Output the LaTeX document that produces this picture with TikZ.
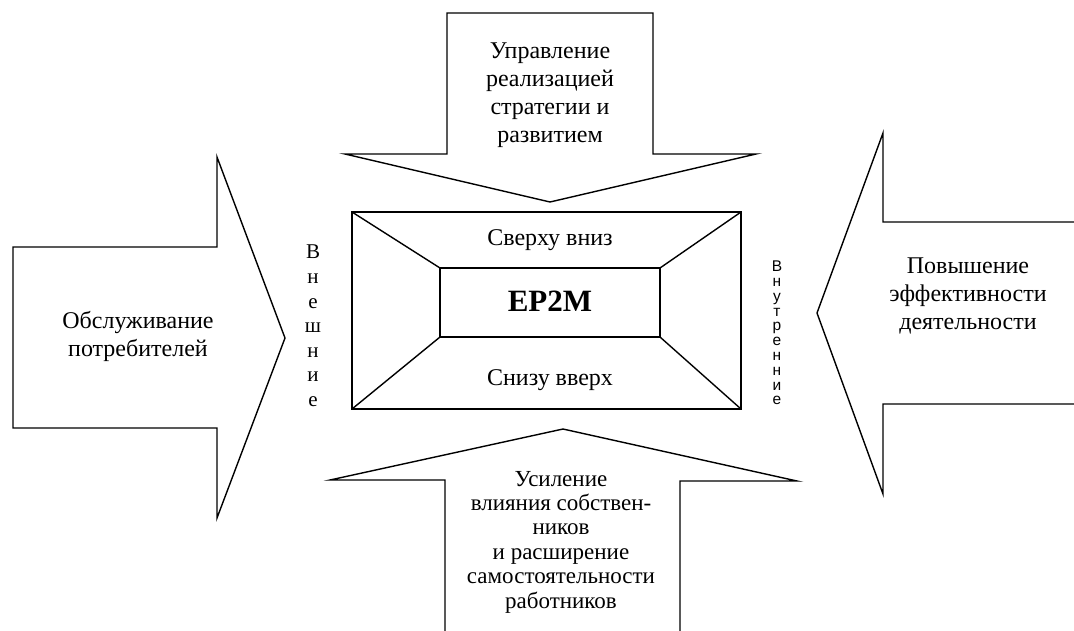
\documentclass[tikz,border=0pt]{standalone}
\usepackage{fontspec}
\setmainfont{Liberation Serif}
\newfontfamily\arialfont{Liberation Sans}
\begin{document}
\begin{tikzpicture}[x=1pt,y=-1pt,
  shapeline/.style={draw=black,line width=1.4pt,line join=miter},
  lbl/.style={align=center,inner sep=0pt,font=\fontsize{24}{28}\selectfont},
  lblsmall/.style={align=center,inner sep=0pt,font=\fontsize{23}{24.4}\selectfont},
  vlbl/.style={align=center,inner sep=0pt,font=\fontsize{21}{24.6}\selectfont},
  vlblsans/.style={align=center,inner sep=0pt,font=\arialfont\fontsize{15.5}{14.8}\selectfont}]
\useasboundingbox (0,0) rectangle (1074,630);
% top arrow
\draw[shapeline] (447,13) -- (653,13) -- (653,154) -- (756,154) -- (550,202) -- (345,154) -- (447,154) -- cycle;
% left arrow
\draw[shapeline] (13,247) -- (217,247) -- (217,157) -- (285,338) -- (217,518) -- (217,428) -- (13,428) -- cycle;
% right arrow (open at the right edge)
\draw[shapeline] (1076,222) -- (883,222) -- (883,133) -- (817,313) -- (883,494) -- (883,404) -- (1076,404);
% bottom arrow (open at the bottom edge)
\draw[shapeline] (445,632) -- (445,480) -- (330,480) -- (563,429) -- (797,481) -- (680,481) -- (680,632);
% central box
\coordinate (o1) at (352,212);
\coordinate (o2) at (741,212);
\coordinate (o3) at (741,409);
\coordinate (o4) at (352,409);
\coordinate (i1) at (440,268);
\coordinate (i2) at (660,268);
\coordinate (i3) at (660,337);
\coordinate (i4) at (440,337);
\draw[shapeline] (o1) -- (o2) -- (o3) -- (o4) -- cycle;
\draw[shapeline] (i1) -- (i2) -- (i3) -- (i4) -- cycle;
\draw[shapeline] (o1) -- (i1);
\draw[shapeline] (o2) -- (i2);
\draw[shapeline] (o3) -- (i3);
\draw[shapeline] (o4) -- (i4);
% texts
\node[lbl] (top) at (550,95) {Управление\\реализацией\\стратегии и\\развитием};
\node[lbl] (left) at (138,336) {Обслуживание\\потребителей};
\node[lbl] (right) at (968,296) {Повышение\\эффективности\\деятельности};
\node[lblsmall] (bottom) at (561,542) {Усиление\\влияния собствен-\\ников\\ и расширение\\самостоятельности\\работников};
\node[lbl] (up) at (550,240) {Сверху вниз};
\node[lbl] (down) at (550,380) {Снизу вверх};
\node[inner sep=0pt,font=\fontsize{31}{34}\selectfont\bfseries] (core) at (550,301) {EP2M};
\node[vlbl] (ext) at (313,326) {В\\н\\е\\ш\\н\\и\\е};
\node[vlblsans] (int) at (777,333) {В\\н\\у\\т\\р\\е\\н\\н\\и\\е};
\end{tikzpicture}
\end{document}
